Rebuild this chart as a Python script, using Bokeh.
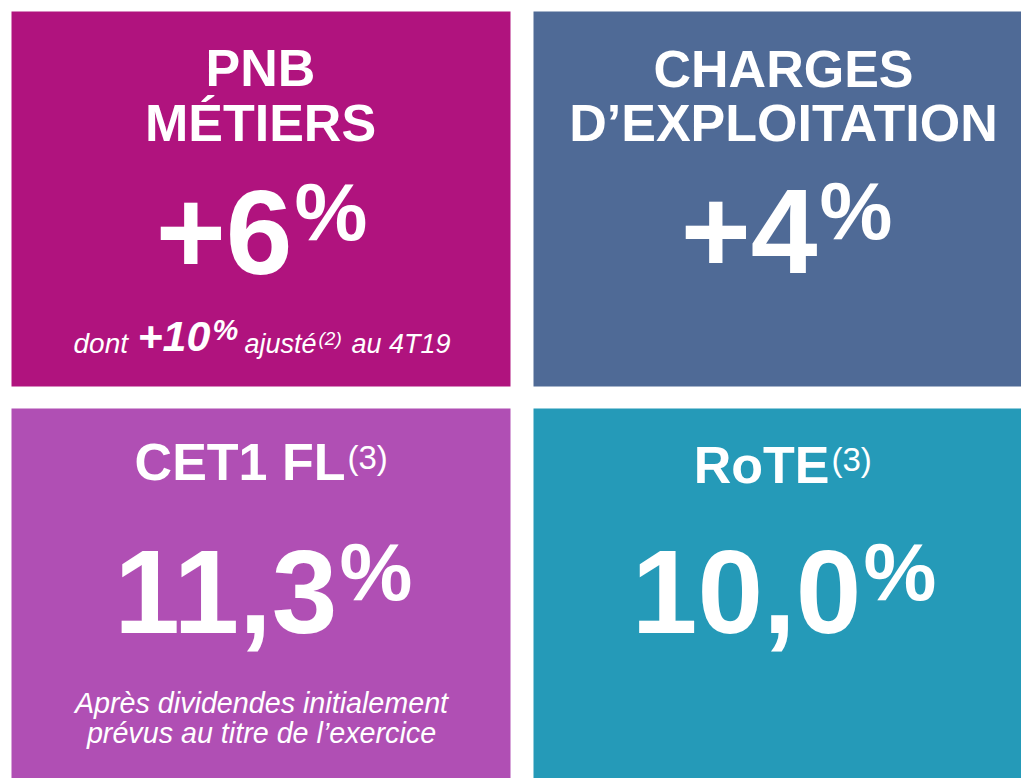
from bokeh.plotting import figure
from bokeh.models import Range1d
from bokeh.core.properties import value
from bokeh.embed import file_html
from bokeh.resources import INLINE

# ---- data ----
tile_colors = ["#B0137E", "#4F6A96", "#B04FB4", "#259AB8"]
title_lines = [["PNB", "MÉTIERS"], ["CHARGES", "D’EXPLOITATION"], ["CET1 FL"], ["RoTE"]]
title_notes = ["", "", "(3)", "(3)"]
kpi_values = ["+6", "+4", "11,3", "10,0"]
kpi_unit = "%"
sub1_parts = ["dont", "+10", "%", "ajusté", "(2)", "au 4T19"]
sub3_lines = ["Après dividendes initialement", "prévus au titre de l’exercice"]

FONT = value("Liberation Sans")
K = 0.37  # baseline correction (fraction of font size)

# ---- layout ----
W, H = 1021, 778
col_left = [11, 533]
col_right = [510, 1040]
row_top = [11, 408]
row_bottom = [386, 800]
col_cx = [260, 783]

p = figure(width=W, height=H, x_range=Range1d(0, W), y_range=Range1d(H, 0),
           output_backend="svg", toolbar_location=None, min_border=0,
           background_fill_color="white", border_fill_color="white")
p.axis.visible = False
p.grid.visible = False
p.outline_line_color = None

# tiles
L, R, T, B = [], [], [], []
for i in range(4):
    c, r = i % 2, i // 2
    L.append(col_left[c]); R.append(col_right[c]); T.append(row_top[r]); B.append(row_bottom[r])
p.quad(left=L, right=R, top=T, bottom=B, fill_color=tile_colors, line_color=None)

def txt(x, y, t, size, style="normal", align="left"):
    y = [v - K * size for v in y]
    p.text(x=x, y=y, text=t, text_font=FONT, text_font_size=f"{size}px", text_font_style=style,
           text_color="white", text_align=align, text_baseline="alphabetic")

# titles (centred, multi-line) for top tiles
tx, ty, tt = [], [], []
title_base = [[87, 142], [88, 142]]
for i in range(2):
    for j, line in enumerate(title_lines[i]):
        tx.append(col_cx[i]); ty.append(title_base[i][j]); tt.append(line)
txt(tx, ty, tt, 52, "bold", "center")

# titles with superscript notes for bottom tiles
note_anchor = [345, 829]
note_base = [481, 484]
txt(note_anchor, note_base, [title_lines[2][0], title_lines[3][0]], 52, "bold", "right")
txt([a + 2 for a in note_anchor], [469, 471], [title_notes[2], title_notes[3]], 33, "normal", "left")

# KPI values
val_anchor = [292, 817, 337, 861]
val_base = [276, 275, 635, 635]
txt(val_anchor[:2], val_base[:2], kpi_values[:2], 120, "bold", "right")
txt(val_anchor[2:], val_base[2:], kpi_values[2:], 118, "bold", "right")
txt([a + 2 for a in val_anchor], [241, 240, 601, 601], [kpi_unit] * 4, 82, "bold", "left")

# subtitle tile 1 (rich text pieces)
txt([73], [353], [sub1_parts[0]], 28, "italic")
txt([137], [352], [sub1_parts[1]], 43, "bold italic")
txt([212], [340], [sub1_parts[2]], 29, "bold italic")
txt([244], [353], [sub1_parts[3]], 27, "italic")
txt([318], [345], [sub1_parts[4]], 19, "italic")
txt([351], [353], [sub1_parts[5]], 27, "italic")

# subtitle tile 3
txt([261, 261], [713, 743], sub3_lines, 28.7, "italic", "center")

open("out.html", "w").write(file_html(p, INLINE))
